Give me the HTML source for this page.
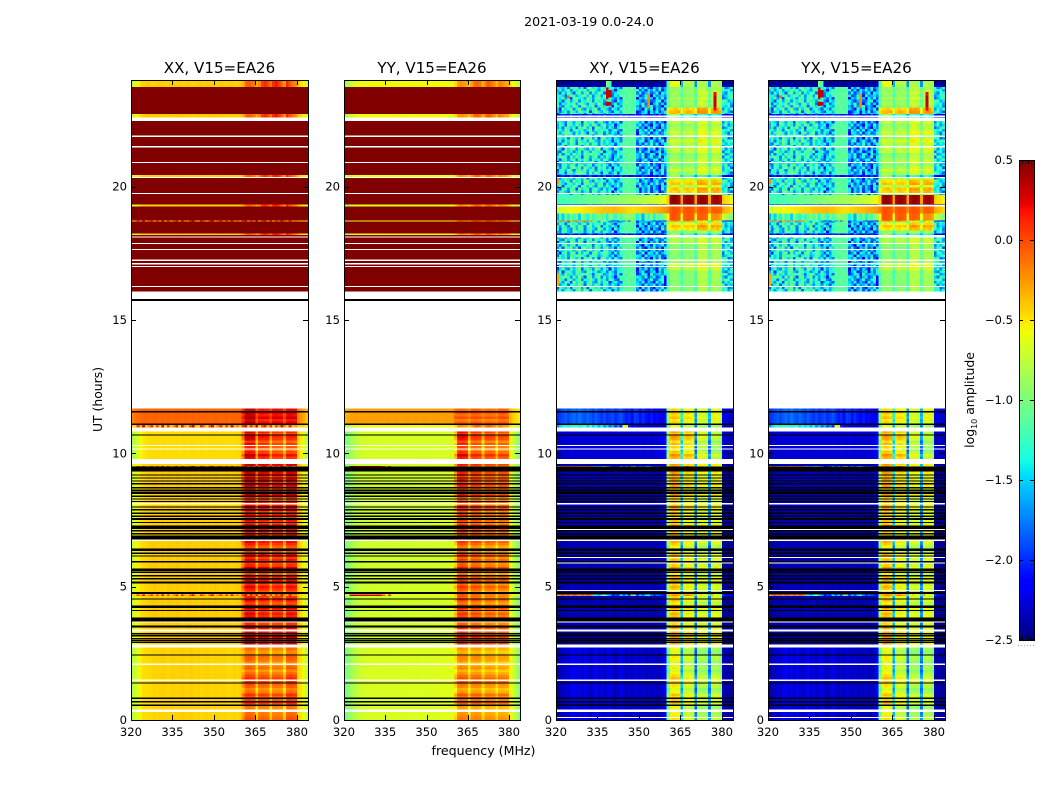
<!DOCTYPE html>
<html>
<head>
<meta charset="utf-8">
<title>2021-03-19 0.0-24.0</title>
<style>
html,body{margin:0;padding:0;background:#fff;width:1050px;height:800px;overflow:hidden}
svg{display:block}
text{font-family:"DejaVu Sans","Liberation Sans",sans-serif;fill:#000}
</style>
</head>
<body>
<svg id="fig" xmlns="http://www.w3.org/2000/svg" width="1050" height="800" viewBox="0 0 1050 800">
<text x="589" y="26" font-size="12.6" text-anchor="middle">2021-03-19 0.0-24.0</text>
<text x="483.5" y="755" font-size="12.6" text-anchor="middle">frequency (MHz)</text>
<text x="0" y="0" font-size="12.4" text-anchor="middle" transform="translate(102,399.5) rotate(-90)">UT (hours)</text>
<text x="0" y="0" font-size="12.4" text-anchor="middle" transform="translate(974,400) rotate(-90)">log<tspan font-size="8" dy="3">10</tspan><tspan dy="-3"> amplitude</tspan></text>
<g id="panels"></g>
<g id="cbar"></g>
</svg>
<script>
// ---------- axis data ----------
const panelNames = ["XX", "YY", "XY", "YX"];
const panelSuffix = ", V15=EA26";
const freqTicks = [320, 335, 350, 365, 380];
const hourTicks = [0, 5, 10, 15, 20];
const colorTicks = [0.5, 0.0, -0.5, -1.0, -1.5, -2.0, -2.5];

// ---------- XX spectra (log10 amplitude for 64 1-MHz channels) ----------
const xxLow = [-.8,-.72,-.62,-.54,-.48,-.47,-.46,-.45,-.44,-.45,-.44,-.43,-.44,-.45,-.43,-.43,-.44,-.43,-.42,-.43,-.44,-.42,-.43,-.44,-.43,-.45,-.44,-.43,-.44,-.45,-.43,-.44,-.45,-.44,-.45,-.46,-.45,-.44,-.45,-.43,-.32,-.11,-.09,-.11,-.14,-.47,-.17,-.15,-.17,-.18,-.46,-.2,-.18,-.19,-.21,-.47,-.11,-.09,-.11,-.13,-.46,-.5,-.6,-.74];
const xxMain = [-.74,-.64,-.55,-.49,-.46,-.44,-.43,-.42,-.41,-.42,-.43,-.42,-.44,-.41,-.42,-.43,-.41,-.42,-.44,-.43,-.41,-.42,-.43,-.42,-.44,-.42,-.41,-.43,-.42,-.43,-.41,-.42,-.44,-.43,-.42,-.43,-.44,-.43,-.42,-.41,-.26,.02,.05,.04,.02,-.4,-.05,-.03,-.05,-.06,-.38,-.08,-.06,-.05,-.08,-.4,-.02,0,-.02,-.04,-.4,-.46,-.56,-.7];
const xxMid = [-.85,-.75,-.65,-.57,-.52,-.49,-.48,-.47,-.46,-.47,-.48,-.46,-.47,-.48,-.46,-.47,-.46,-.48,-.47,-.46,-.48,-.47,-.46,-.47,-.48,-.47,-.46,-.48,-.47,-.46,-.47,-.48,-.47,-.46,-.48,-.47,-.48,-.47,-.46,-.44,-.32,.12,.14,.12,.1,-.44,-.02,0,-.02,-.03,-.4,-.1,-.08,-.1,-.11,-.42,-.05,-.04,-.06,-.08,-.44,-.52,-.64,-.8];
const xxBlock = [-.18,-.14,-.11,-.1,-.09,-.08,-.09,-.1,-.08,-.09,-.1,-.08,-.09,-.08,-.1,-.09,-.08,-.09,-.1,-.08,-.09,-.1,-.08,-.09,-.08,-.1,-.09,-.08,-.1,-.09,-.08,-.09,-.1,-.09,-.08,-.1,-.09,-.08,-.09,-.08,-.02,.2,.22,.2,.18,-.12,.05,.07,.05,.04,-.1,.08,.1,.08,.07,-.12,.1,.12,.1,.08,-.18,-.24,-.3,-.4];
const xxLine = [-.45,-.42,.05,-.38,.2,-.42,-.2,.1,-.45,.02,-.38,.25,-.42,.05,-.45,-.2,.15,-.42,.2,-.3,-.42,.02,.3,-.38,-.42,.1,-.2,-.45,.02,.2,-.42,-.2,.1,-.42,.02,-.38,.2,-.38,-.2,-.42,.05,.2,-.38,.1,-.3,.25,-.42,.02,.15,-.38,.1,-.42,.02,-.3,.2,-.2,-.42,.1,-.38,-.3,-.42,-.45,-.45,-.5];
const xxYellow = [-.75,-.65,-.55,-.48,-.44,-.43,-.42,-.44,-.43,-.42,-.43,-.42,-.44,-.43,-.42,-.44,-.43,-.42,-.43,-.44,-.42,-.43,-.44,-.43,-.42,-.43,-.44,-.42,-.43,-.42,-.44,-.43,-.42,-.43,-.44,-.43,-.42,-.43,-.44,-.42,-.36,-.12,-.05,-.1,-.15,-.3,-.2,.05,.1,.02,-.15,.1,.18,.05,-.1,-.25,.12,-.05,-.15,-.2,-.4,-.48,-.55,-.72];

// ---------- YY spectra ----------
const yyLow = [-1.02,-.96,-.88,-.82,-.76,-.72,-.7,-.69,-.68,-.67,-.68,-.67,-.66,-.67,-.66,-.67,-.66,-.65,-.66,-.67,-.65,-.66,-.65,-.66,-.64,-.65,-.66,-.65,-.64,-.65,-.66,-.64,-.65,-.64,-.65,-.64,-.63,-.64,-.63,-.62,-.52,-.25,-.22,-.24,-.26,-.52,-.28,-.27,-.26,-.28,-.5,-.32,-.3,-.32,-.33,-.5,-.33,-.32,-.34,-.36,-.55,-.68,-.8,-.96];
const yyMain = [-1.0,-.95,-.88,-.82,-.77,-.74,-.72,-.71,-.7,-.71,-.7,-.69,-.71,-.7,-.69,-.7,-.71,-.69,-.7,-.69,-.7,-.71,-.69,-.7,-.68,-.7,-.69,-.7,-.68,-.69,-.7,-.69,-.68,-.7,-.69,-.68,-.69,-.68,-.67,-.66,-.55,-.16,-.12,-.14,-.18,-.5,-.22,-.2,-.22,-.24,-.5,-.28,-.26,-.28,-.3,-.5,-.3,-.28,-.3,-.34,-.58,-.72,-.85,-.98];
const yyMid = [-1.0,-.95,-.88,-.82,-.76,-.72,-.7,-.69,-.68,-.69,-.68,-.67,-.69,-.68,-.67,-.68,-.69,-.67,-.68,-.67,-.68,-.69,-.67,-.68,-.67,-.68,-.69,-.67,-.68,-.67,-.69,-.68,-.67,-.68,-.69,-.67,-.68,-.67,-.66,-.64,-.52,.03,.06,.04,.01,-.48,-.12,-.1,-.12,-.13,-.46,-.15,-.14,-.15,-.17,-.48,-.18,-.17,-.18,-.2,-.55,-.7,-.82,-.96];
const yyBlock = [-.34,-.31,-.29,-.28,-.27,-.28,-.27,-.28,-.27,-.28,-.27,-.26,-.28,-.27,-.28,-.27,-.26,-.28,-.27,-.26,-.28,-.27,-.26,-.27,-.28,-.26,-.27,-.28,-.27,-.26,-.27,-.28,-.27,-.26,-.27,-.28,-.27,-.26,-.27,-.26,-.24,-.22,-.2,-.22,-.24,-.32,-.2,-.18,-.2,-.22,-.3,-.24,-.22,-.24,-.25,-.3,-.2,-.18,-.2,-.24,-.36,-.42,-.46,-.52];
const yyLine = [-.62,-.6,.28,.32,.3,.25,.3,.32,.28,.3,.26,.32,.3,.2,-.1,-.55,.1,-.6,-.62,-.6,-.62,-.6,-.58,-.6,-.62,-.6,-.58,-.6,-.62,-.6,-.58,-.6,-.62,-.6,-.58,-.6,-.58,-.6,-.58,-.56,-.45,-.05,.02,-.02,-.08,-.45,-.1,-.12,-.1,-.12,-.45,-.15,-.2,-.15,-.18,-.45,-.2,-.22,-.18,-.25,-.48,-.55,-.62,-.7];
const yyYellow = [-.85,-.8,-.72,-.66,-.62,-.6,-.58,-.6,-.58,-.57,-.58,-.6,-.58,-.57,-.58,-.6,-.58,-.57,-.58,-.6,-.57,-.58,-.6,-.58,-.57,-.58,-.6,-.57,-.58,-.57,-.6,-.58,-.57,-.58,-.6,-.58,-.57,-.58,-.6,-.57,-.48,-.28,-.22,-.26,-.3,-.42,-.25,-.1,-.08,-.15,-.32,-.15,-.05,-.12,-.2,-.36,-.18,-.22,-.28,-.32,-.5,-.58,-.66,-.8];

// ---------- XY spectra ----------
const xyLow = [-2.4,-2.36,-2.32,-2.28,-2.3,-2.24,-2.18,-2.28,-2.22,-2.32,-2.2,-2.26,-2.33,-2.28,-2.18,-2.3,-2.24,-2.32,-2.26,-2.2,-2.3,-2.35,-2.28,-2.22,-2.3,-2.36,-2.28,-2.33,-2.25,-2.3,-2.34,-2.28,-2.36,-2.3,-2.33,-2.28,-2.36,-2.33,-2.28,-2.15,-1.1,-.62,-.55,-.58,-.6,-1.6,-.78,-.72,-.75,-.8,-1.8,-.9,-.85,-.88,-.92,-1.75,-.85,-.82,-.85,-.95,-2.35,-2.38,-2.42,-2.42];
const xyMain = [-2.45,-2.42,-2.4,-2.4,-2.38,-2.36,-2.35,-2.38,-2.36,-2.4,-2.35,-2.38,-2.4,-2.36,-2.35,-2.38,-2.36,-2.4,-2.38,-2.35,-2.38,-2.4,-2.36,-2.38,-2.35,-2.4,-2.38,-2.36,-2.4,-2.38,-2.35,-2.38,-2.4,-2.36,-2.38,-2.4,-2.38,-2.36,-2.35,-2.25,-1.05,-.58,-.52,-.55,-.6,-1.7,-.76,-.72,-.74,-.78,-1.9,-.85,-.82,-.85,-.88,-1.85,-.82,-.78,-.82,-.9,-2.42,-2.44,-2.45,-2.45];
const xyMid = [-2.35,-2.32,-2.3,-2.28,-2.3,-2.26,-2.28,-2.3,-2.26,-2.28,-2.3,-2.26,-2.28,-2.3,-2.26,-2.28,-2.3,-2.26,-2.28,-2.3,-2.26,-2.28,-2.3,-2.26,-2.28,-2.3,-2.26,-2.28,-2.3,-2.26,-2.28,-2.3,-2.26,-2.28,-2.3,-2.26,-2.28,-2.25,-2.2,-2.1,-1.0,-.48,-.42,-.45,-.5,-1.5,-.62,-.55,-.58,-.65,-1.85,-.82,-.78,-.8,-.85,-1.8,-.92,-.88,-.9,-1.0,-2.3,-2.32,-2.35,-2.35];
const xyBlock = [-2.0,-1.95,-1.9,-1.85,-1.92,-1.85,-1.8,-1.88,-1.78,-1.85,-1.9,-1.82,-1.88,-1.95,-1.85,-1.92,-1.98,-1.9,-2.0,-1.95,-1.9,-2.0,-1.95,-1.88,-1.98,-2.05,-2.0,-2.1,-1.95,-1.98,-2.1,-2.0,-2.08,-2.12,-2.05,-2.15,-2.1,-2.18,-2.2,-2.1,-1.1,-.6,-.55,-.58,-.62,-1.5,-.7,-.65,-.68,-.75,-1.8,-.85,-.8,-.82,-.88,-1.7,-.75,-.7,-.75,-.85,-2.2,-2.25,-2.3,-2.3];
const xyLine = [-.3,-.2,-.1,-.25,-.15,-.3,-.1,-.2,-.3,-.15,-.25,-.1,-.2,-.35,-1.3,-1.5,-1.1,-.6,-1.4,-1.6,-2.1,-1.9,-2.0,-1.4,-1.8,-1.5,-1.9,-.4,-1.2,-1.9,-1.5,-1.8,-1.4,-1.2,-1.7,-2.0,-1.8,-1.9,-2.0,-2.1,-.4,-.3,-.2,-.15,-.3,-.9,-.2,-.1,-.25,-.3,-1.2,-.6,-.4,-.6,-.7,-1.2,-.25,-.6,-.7,-.8,-1.9,-2.1,-2.1,-2.2];
const xyStreak = [-1.7,-1.5,-1.4,-1.3,-1.4,-1.2,-1.3,-1.2,-1.4,-1.3,-1.2,-1.5,-1.3,-1.5,-1.4,-1.6,-1.4,-1.7,-1.5,-1.8,-1.6,-1.9,-1.7,-2.0,-.7,-.5,-2.0,-2.2,-2.1,-2.2,-2.2,-2.3,-2.2,-2.3,-2.25,-2.3,-2.3,-2.25,-2.3,-2.2,-1.2,-.7,-.6,-.65,-.7,-1.6,-.85,-.75,-.8,-.85,-1.8,-.9,-.85,-.9,-.95,-1.75,-.85,-.85,-.9,-1.0,-2.3,-2.35,-2.4,-2.4];
const xyBlue = [-2.2,-2.1,-2.0,-2.2,-2.1,-1.9,-2.1,-2.2,-2.0,-2.1,-2.2,-2.0,-1.9,-2.1,-2.2,-2.0,-2.1,-1.9,-2.2,-2.1,-2.0,-2.1,-2.2,-1.9,-2.1,-2.0,-2.2,-2.1,-2.0,-2.2,-2.1,-1.9,-2.0,-2.2,-2.1,-2.0,-2.2,-1.9,-2.1,-2.0,-1.2,-.9,-.8,-.9,-1.0,-1.5,-1.2,-1.1,-1.2,-1.3,-1.7,-1.3,-1.2,-1.3,-1.4,-1.6,-1.3,-1.2,-1.4,-1.5,-2.1,-2.2,-2.2,-2.3];
const xyTop = [-2.45,-2.45,-2.42,-2.4,-2.42,-2.45,-2.4,-2.42,-2.38,-2.42,-2.45,-2.4,-2.42,-2.38,-2.4,-2.45,-2.42,-2.4,-1.0,-1.2,-2.4,-2.42,-2.45,-2.4,-2.42,-2.38,-2.4,-2.45,-2.42,-2.4,-2.38,-2.42,-2.4,-2.4,-2.45,-2.42,-2.4,-2.38,-2.42,-2.3,-1.2,-.62,-.58,-.6,-.62,-1.6,-.8,-.78,-.8,-.82,-1.7,-.85,-.82,-.85,-.88,-1.7,-.82,-.8,-.85,-.9,-2.3,-2.4,-2.42,-2.45];
const xyFlare = [-1.25,-1.22,-1.2,-1.22,-1.18,-1.2,-1.16,-1.15,-1.12,-1.14,-1.1,-1.08,-1.06,-1.08,-1.05,-1.04,-1.02,-1.0,-.98,-.98,-.96,-.95,-.92,-.92,-.9,-.9,-.88,-.86,-.85,-.84,-.82,-.8,-.78,-.78,-.75,-.72,-.7,-.66,-.62,-.56,-.42,.42,.46,.45,.36,-.28,.38,.44,.44,.36,-.3,.38,.45,.45,.36,-.3,.36,.42,.42,.3,-.42,-.48,-.5,-.55];
const xyBar = [-.72,-.68,-.65,-.62,-.6,-.58,-.56,-.55,-.54,-.52,-.5,-.48,-.46,-.45,-.44,-.42,-.4,-.38,-.38,-.37,-.36,-.36,-.38,-.4,-.42,-.44,-.46,-.48,-.48,-.46,-.44,-.42,-.4,-.38,-.36,-.34,-.32,-.3,-.28,-.25,-.18,-.05,-.02,-.03,-.05,-.22,-.05,-.03,-.02,-.05,-.22,-.05,-.02,-.03,-.06,-.22,-.08,-.05,-.06,-.1,-.3,-.36,-.4,-.45];
const xyFlareLow = [-1.6,-1.2,-1.5,-1.1,-1.4,-1.0,-1.3,-1.1,-1.5,-.9,-1.2,-1.4,-1.0,-1.3,-1.1,-.95,-1.2,-1.0,-1.4,-.95,-1.1,-1.3,-1.0,-1.2,-1.0,-.95,-.95,-.98,-1.0,-1.4,-1.2,-1.6,-1.1,-1.3,-1.0,-1.4,-1.1,-1.2,-1.0,-.9,-.55,-.04,-.02,-.04,-.06,-.55,-.06,-.04,-.05,-.08,-.55,-.06,-.05,-.08,-.1,-.6,-.22,-.2,-.22,-.3,-.7,-.8,-.9,-1.0];
const xyNoise1 = [-1.5,-1.3,-1.8,-1.4,-1.2,-1.6,-1.9,-1.4,-1.3,-1.7,-1.2,-1.5,-2.0,-1.4,-1.3,-1.6,-1.2,-1.8,-1.5,-1.3,-1.9,-1.4,-1.6,-1.3,-1.15,-1.1,-1.2,-1.15,-1.2,-1.9,-1.5,-2.2,-1.7,-1.4,-2.0,-1.6,-2.1,-1.5,-1.8,-1.4,-1.3,-1.0,-.95,-1.05,-1.0,-1.3,-1.1,-1.05,-1.0,-1.1,-1.4,-.95,-.9,-.95,-1.0,-1.3,-1.0,-.95,-.95,-1.0,-1.5,-1.3,-1.7,-1.4];
const xyNoise2 = [-1.3,-1.7,-1.4,-1.2,-2.0,-1.5,-1.3,-1.6,-1.9,-1.2,-1.4,-1.8,-1.3,-1.5,-2.1,-1.2,-1.6,-1.4,-1.3,-1.9,-1.5,-1.2,-1.7,-1.9,-1.2,-1.15,-1.1,-1.2,-1.15,-1.5,-2.1,-1.6,-1.9,-2.2,-1.4,-1.8,-1.5,-2.3,-1.6,-1.9,-1.25,-1.05,-1.0,-.95,-1.05,-1.4,-1.05,-1.0,-1.1,-1.05,-1.35,-.9,-.95,-.9,-.95,-1.35,-.95,-1.0,-.9,-1.05,-1.3,-1.8,-1.4,-1.6];
const xyNoise3 = [-1.8,-1.4,-1.2,-1.6,-1.4,-1.9,-1.2,-1.5,-1.7,-1.4,-2.0,-1.3,-1.5,-1.2,-1.8,-1.4,-2.1,-1.3,-1.2,-1.6,-1.4,-1.8,-1.3,-1.5,-1.1,-1.2,-1.15,-1.1,-1.2,-2.2,-1.6,-1.8,-1.4,-2.0,-1.7,-2.3,-1.5,-1.9,-1.4,-2.0,-1.35,-.95,-1.05,-1.0,-.95,-1.3,-1.1,-1.0,-1.05,-1.0,-1.45,-.95,-.9,-.85,-.95,-1.25,-1.0,-.9,-1.0,-.95,-1.7,-1.4,-1.3,-1.9];
const xyNoise4 = [-1.2,-1.5,-1.9,-1.3,-1.7,-1.2,-1.6,-2.1,-1.4,-1.3,-1.8,-1.5,-1.2,-1.9,-1.4,-1.7,-1.3,-1.5,-2.0,-1.4,-1.2,-1.7,-1.4,-1.2,-1.2,-1.15,-1.1,-1.15,-1.1,-1.6,-1.9,-1.4,-2.1,-1.7,-1.5,-2.0,-1.8,-1.4,-2.2,-1.5,-1.3,-1.0,-1.0,-.95,-1.05,-1.35,-1.0,-1.1,-1.0,-1.05,-1.4,-.9,-.95,-.9,-.9,-1.3,-.95,-.95,-1.0,-.95,-1.4,-1.6,-1.9,-1.3];
const xyNoise5 = [-1.6,-1.2,-1.5,-2.0,-1.3,-1.4,-1.7,-1.2,-1.6,-1.9,-1.3,-1.4,-1.7,-1.2,-1.5,-1.9,-1.4,-1.2,-1.7,-1.5,-1.3,-2.0,-1.5,-1.4,-1.15,-1.2,-1.1,-1.2,-1.15,-1.7,-1.4,-2.0,-1.6,-1.9,-2.3,-1.5,-1.7,-2.1,-1.4,-1.8,-1.3,-1.05,-.95,-1.0,-1.0,-1.3,-1.05,-1.05,-1.1,-1.0,-1.35,-.95,-.85,-.9,-1.0,-1.3,-.9,-1.0,-.95,-1.0,-1.6,-1.2,-1.8,-1.5];
const xyNoise6 = [-1.4,-1.9,-1.3,-1.5,-1.8,-1.3,-1.4,-1.6,-1.2,-2.1,-1.5,-1.2,-1.6,-1.8,-1.3,-1.4,-1.7,-1.9,-1.3,-1.2,-1.6,-1.5,-1.9,-1.6,-1.1,-1.15,-1.2,-1.1,-1.2,-2.0,-1.7,-1.5,-2.2,-1.6,-1.9,-1.4,-2.1,-1.7,-1.5,-2.2,-1.2,-1.0,-1.05,-1.0,-.95,-1.4,-1.1,-1.0,-1.0,-1.1,-1.3,-.9,-.95,-.95,-.95,-1.4,-1.0,-.9,-.95,-1.05,-1.9,-1.5,-1.3,-1.7];
const xyNoise7 = [-1.9,-1.3,-1.6,-1.3,-1.5,-2.0,-1.4,-1.3,-1.8,-1.5,-1.3,-1.9,-1.4,-1.6,-1.2,-1.5,-1.9,-1.3,-1.6,-1.4,-1.8,-1.2,-1.3,-1.7,-1.2,-1.1,-1.15,-1.2,-1.1,-1.4,-2.2,-1.7,-1.5,-1.8,-2.1,-1.7,-1.4,-2.0,-1.9,-1.5,-1.3,-.95,-1.0,-1.05,-1.0,-1.3,-1.0,-1.05,-1.0,-1.05,-1.4,-.9,-.9,-.95,-1.0,-1.35,-.95,-.9,-1.0,-1.0,-1.3,-1.7,-1.5,-1.2];
const xyNoise8 = [-1.3,-1.6,-2.0,-1.5,-1.3,-1.4,-1.8,-1.6,-1.2,-1.4,-1.7,-1.3,-1.9,-1.5,-1.4,-1.8,-1.2,-1.6,-1.4,-1.8,-1.3,-1.5,-1.2,-1.4,-1.15,-1.2,-1.15,-1.1,-1.15,-1.8,-1.5,-2.1,-1.9,-1.5,-1.6,-2.2,-1.4,-1.8,-1.7,-1.6,-1.35,-1.0,-.95,-1.0,-1.05,-1.35,-1.05,-1.0,-1.05,-1.0,-1.4,-.95,-.9,-.9,-.95,-1.3,-.95,-.95,-.9,-1.0,-1.6,-1.4,-1.2,-1.8];

// Typical per-channel level correction for the noisy cross-hand rows
const noiseTilt = [0,.05,.12,.14,.16,.18,.2,.18,.2,.16,.18,.2,.2,.16,.18,.2,.16,.12,.08,.02,-.02,-.04,-.02,.04,.02,.02,.02,.02,.02,.1,.12,.14,.12,.1,.14,.12,.1,.12,.12,.1,.12,.05,.05,.05,.05,.15,.08,.08,.08,.08,.2,.12,.12,.12,.12,.2,.1,.1,.1,.1,.1,.1,.08,.05];
const noiseShift = [0,5,17,9,2,21,13,7,19,3,11,23,1,15,6,20,8,14,4,22,10,16,12,18,5,9,1,13,20,7,3];

// Saturated level shown by XX / YY during most of the second observing block
const saturatedLevel = 0.9;

const spectraXX = {low:xxLow, main:xxMain, mid:xxMid, block:xxBlock, line:xxLine, speck:xxLine, streak:xxLine, yellow:xxYellow, blue:xxYellow, top:xxYellow, n1:saturatedLevel, n2:saturatedLevel, n3:saturatedLevel, n4:saturatedLevel, n5:saturatedLevel, n6:saturatedLevel, n7:saturatedLevel, n8:saturatedLevel, flare:saturatedLevel, bar:saturatedLevel, flareLow:saturatedLevel};
const spectraYY = {low:yyLow, main:yyMain, mid:yyMid, block:yyBlock, line:yyLine, speck:yyYellow, streak:yyYellow, yellow:yyYellow, blue:yyYellow, top:yyYellow, n1:saturatedLevel, n2:saturatedLevel, n3:saturatedLevel, n4:saturatedLevel, n5:saturatedLevel, n6:saturatedLevel, n7:saturatedLevel, n8:saturatedLevel, flare:saturatedLevel, bar:saturatedLevel, flareLow:saturatedLevel};
const spectraXY = {low:xyLow, main:xyMain, mid:xyMid, block:xyBlock, line:xyLine, speck:xyLine, streak:xyStreak, yellow:xyBlue, blue:xyBlue, top:xyTop, n1:xyNoise1, n2:xyNoise2, n3:xyNoise3, n4:xyNoise4, n5:xyNoise5, n6:xyNoise6, n7:xyNoise7, n8:xyNoise8, flare:xyFlare, bar:xyBar, flareLow:xyFlareLow};
const spectraYX = spectraXY;
const spectraByPol = [spectraXX, spectraYY, spectraXY, spectraYX];

// ---------- per-row RFI band offsets (log10 units, rows of 0.1 h) ----------
const lowBoost = [.09,.04,-.01,-.1,-.05,.06,.2,.15,.1,.2,0,-.08,.05,.1,.17,.22,.12,0,-.1,.05,-.05,-.1,.03,.06,-.04,-.1,0,.06,.14];
const mainBoost = [.3,.2,.32,.1,.25,.12,.3,.08,.2,.05,.15,.22,.06,.28,.12,.02,.2,.08,.15,-.02,.1,.22,.05,.18,.28,.1,.02,.2,.3,.12,.05,.2,.08,.25,.02,.15,-.03,.12,.22,.05,.16,.08,.28,.12,.32,.1,.2,.05,.18,.08,.25,.3,.12,.2,.05,.25,.32,.15,.08,.28,.2,.35,.1,.25,.3,.15,.22,.3];
const midBoost = [.1,.25,.05,-.1,0,.1,-.05,.15,.2,.05,.25,.1];
const blockBoost = [.15,.05,.2,.1,.25,.12,.2];
const flatBoost = [0];
const upperBoost = [0,0,0,0,0,0,0,0,.2,.25,.15,.1,0,0,0,.05,0,0,.15,.15,.1,0,0,.45,.55,.4,0,0,0,0,0,0,0,0,0,0,0,.5,.55,.2,.55,.45,.15,.1,.1,.25,.1,0,.2,.1,.05,0,.2,.2,.1,.15,.3,.1,.1,.25,.15,.1,.05,.2,0,.1,.55,.6,.5,0,.1,.05,.1,0,.1,.05,0,.1,.1,0];
const noiseOrder = ["n1","n3","n5","n2","n7","n4","n8","n6","n2","n5","n1","n7","n3","n8","n4"];

// ---------- UT sections, painted in order ----------
const sections = [
  {from:0,     to:2.84,  keys:["low"],   boost:lowBoost},
  {from:2.84,  to:9.6,   keys:["main"],  boost:mainBoost},
  {from:9.47,  to:9.52,  keys:["line"],  boost:flatBoost},
  {from:4.65,  to:4.7,   keys:["line"],  boost:flatBoost},
  {from:9.78,  to:10.81, keys:["mid"],   boost:midBoost},
  {from:10.96, to:11.09, keys:["streak"],  boost:flatBoost},
  {from:11.09, to:11.69, keys:["block"], boost:blockBoost},
  {from:16.06, to:24,    keys:noiseOrder, boost:upperBoost, noisy:true},
  {from:18.18, to:18.25, keys:["yellow"], boost:flatBoost},
  {from:18.69, to:18.74, keys:["speck"],  boost:flatBoost},
  {from:18.74, to:19.0,  keys:["flareLow"], boost:flatBoost},
  {from:19.0,  to:19.25, keys:["bar"],   boost:flatBoost},
  {from:19.25, to:19.34, keys:["yellow"], boost:flatBoost},
  {from:19.34, to:19.68, keys:["flare"], boost:flatBoost},
  {from:20.37, to:20.43, keys:["yellow"], boost:flatBoost},
  {from:22.6,  to:22.73, keys:["yellow"], boost:flatBoost},
  {from:23.73, to:23.85, keys:["top"],   boost:flatBoost},
  {from:23.85, to:24,    keys:["top"],   boost:flatBoost}
];

// Narrow-band cross-hand interference: channel, hour range, log10 amplitude
const spikeChannels = [18, 19, 18, 19, 33, 57, 57, 4, 0, 0];
const spikeFrom = [23.3, 23.35, 23.03, 23.05, 22.95, 22.85, 23.0, 23.3, 16.25, 20.1];
const spikeTo = [23.7, 23.62, 23.2, 23.18, 23.5, 23.55, 23.4, 23.42, 16.75, 20.28];
const spikeLevels = [.3, .35, .3, .35, -.2, .2, .35, -.1, -.3, -.2];

// Flagged rows: start hour and duration
const blackStart = [15.74,11.54,11.07,10.66,9.42,9.32,9.16,9.06,8.94,8.83,8.69,8.57,8.47,8.36,8.26,8.17,7.96,7.86,7.73,7.61,7.5,7.38,7.16,7.07,6.96,6.82,6.77,6.33,6.23,6.13,5.91,5.58,5.51,5.38,5.27,5.11,4.72,4.51,4.2,4.08,3.7,3.46,3.21,3.13,3.03,2.96,2.89,2.41,1.36,.79,.66,.53];
const blackHours = [.08,.04,.04,.04,.09,.09,.05,.04,.05,.05,.04,.08,.08,.05,.04,.05,.05,.05,.05,.05,.08,.05,.13,.05,.05,.09,.05,.1,.05,.04,.05,.1,.05,.05,.05,.09,.08,.05,.1,.05,.14,.09,.05,.05,.05,.05,.05,.05,.05,.05,.05,.05];
const whiteStart = [16.06,11.69,10.81,10.28,10.14,9.6,8.09,6.72,3.65,3.32,2.72,2.07,1.46,.3,22.47,21.87,21.46,20.89,20.33,19.73,18.1,17.85,17.63,17.22,17.08,16.99,16.23];
const whiteHours = [-.32,4.01,.15,.04,.04,.18,.04,.05,.04,.07,.12,.04,.06,.1,.13,.04,.06,.04,.04,.04,.04,.04,.04,.04,.06,.04,.04];
const crossWhiteStart = [7.13,6.08,5.86,4.83,.08,22.62,19.26,18.14];
const crossWhiteHours = [.04,.04,.04,.04,.04,.04,.05,.05];

// ---------- geometry & scales ----------
const panelLeft = [131, 344, 556, 768];
const panelWidth = [177, 176, 177, 177];
const plotTop = 80, plotBottom = 720;
const freqMin = 320, freqMax = 384, hourMin = 0, hourMax = 24;
const vmin = -2.5, vmax = 0.5;
const cbarLeft = 1019, cbarRight = 1034, cbarTop = 160, cbarBottom = 640;
const NS = "http://www.w3.org/2000/svg";

function xScale(p, mhz) { return panelLeft[p] + (mhz - freqMin) / (freqMax - freqMin) * panelWidth[p]; }
function yScale(h) { return plotBottom - (h - hourMin) / (hourMax - hourMin) * (plotBottom - plotTop); }
function cScale(v) { return cbarBottom - (v - vmin) / (vmax - vmin) * (cbarBottom - cbarTop); }

function interp(t, pts) {
  for (let i = 1; i < pts.length; i++) {
    if (t <= pts[i][0]) {
      const a = pts[i - 1], b = pts[i];
      return a[1] + (t - a[0]) / (b[0] - a[0]) * (b[1] - a[1]);
    }
  }
  return pts[pts.length - 1][1];
}
const jetR = [[0,0],[.35,0],[.66,1],[.89,1],[1,.5]];
const jetG = [[0,0],[.125,0],[.375,1],[.64,1],[.91,0],[1,0]];
const jetB = [[0,.5],[.11,1],[.34,1],[.65,0],[1,0]];
function jet(v) {
  let t = (v - vmin) / (vmax - vmin);
  t = Math.max(0, Math.min(1, t));
  t = Math.round(t * 255) / 255;
  const c = [jetR, jetG, jetB].map(function (k) { return Math.round(interp(t, k) * 255); });
  return "rgb(" + c[0] + "," + c[1] + "," + c[2] + ")";
}

function mk(tag, parent, attrs) {
  const el = document.createElementNS(NS, tag);
  for (const k in attrs) el.setAttribute(k, attrs[k]);
  parent.appendChild(el);
  return el;
}

function noiseChannel(c, shift) {
  if (c < 24) return (c + shift) % 24;
  if (c >= 29 && c < 40) return 29 + (c - 29 + shift) % 11;
  if (c >= 60) return 60 + (c - 60 + shift) % 4;
  return c;
}
function levelAt(spec, boost, c, noisy, shift) {
  if (typeof spec === "number") return spec;
  const base = noisy ? spec[noiseChannel(c, shift)] + noiseTilt[c] : spec[c];
  return base + (c >= 40 && c < 60 ? boost : 0);
}
function drawRow(group, p, spec, boost, h0, h1, noisy, shift) {
  const y = yScale(h1), hgt = yScale(h0) - yScale(h1);
  let c = 0;
  while (c < 64) {
    const col = jet(levelAt(spec, boost, c, noisy, shift));
    let e = c + 1;
    while (e < 64 && jet(levelAt(spec, boost, e, noisy, shift)) === col) e++;
    const x0 = xScale(p, freqMin + c), x1 = xScale(p, freqMin + e);
    const r = mk("rect", group, {x: x0, y: y, width: x1 - x0, height: hgt, fill: col});
    
    
    c = e;
  }
}

function drawPanel(p) {
  const root = document.getElementById("panels");
  const g = mk("g", root, {"shape-rendering": "crispEdges"});
  
  
  const spectra = spectraByPol[p];
  const cross = p >= 2;

  sections.forEach(function (s) {
    const n = Math.max(1, Math.ceil((s.to - s.from) / 0.1 - 1e-6));
    for (let k = 0; k < n; k++) {
      const h0 = s.from + k * 0.1, h1 = Math.min(s.to, h0 + 0.1);
      drawRow(g, p, spectra[s.keys[k % s.keys.length]], s.boost[k % s.boost.length], h0, h1, !!s.noisy, noiseShift[k % noiseShift.length]);
    }
  });

  if (cross) {
    spikeChannels.forEach(function (ch, i) {
      const x0 = xScale(p, freqMin + ch), x1 = xScale(p, freqMin + ch + 1);
      const r = mk("rect", g, {x: x0, y: yScale(spikeTo[i]), width: x1 - x0, height: yScale(spikeFrom[i]) - yScale(spikeTo[i]), fill: jet(spikeLevels[i])});
      
      
    });
  }

  blackStart.forEach(function (h, i) {
    const r = mk("rect", g, {x: panelLeft[p], y: yScale(h + blackHours[i]), width: panelWidth[p], height: yScale(h) - yScale(h + blackHours[i]), fill: "#000"});
    
    
  });
  whiteStart.forEach(function (h, i) {
    const a = Math.min(h, h + whiteHours[i]), b = Math.max(h, h + whiteHours[i]);
    const r = mk("rect", g, {x: panelLeft[p], y: yScale(b), width: panelWidth[p], height: yScale(a) - yScale(b), fill: "#fff"});
    
    
  });
  if (cross) {
    crossWhiteStart.forEach(function (h, i) {
      const r = mk("rect", g, {x: panelLeft[p], y: yScale(h + crossWhiteHours[i]), width: panelWidth[p], height: yScale(h) - yScale(h + crossWhiteHours[i]), fill: "#fff"});
      
      
    });
  }
  // The gap-edge line runs over everything
  const gapLine = mk("rect", g, {x: panelLeft[p], y: yScale(15.78), width: panelWidth[p], height: 2, fill: "#000"});
  
  

  // ticks
  const L = panelLeft[p], R = panelLeft[p] + panelWidth[p];
  freqTicks.forEach(function (f) {
    const x = Math.round(xScale(p, f)) + 0.5;
    const t1 = mk("line", g, {x1: x, x2: x, y1: plotBottom, y2: plotBottom - 5, stroke: "#000"});
    
    
    const t2 = mk("line", g, {x1: x, x2: x, y1: plotTop, y2: plotTop + 5, stroke: "#000"});
    
    
    const lbl = mk("text", root, {x: xScale(p, f), y: 736, "font-size": 11.6, "text-anchor": "middle"});
    lbl.textContent = String(f);
    
    
  });
  hourTicks.forEach(function (h) {
    const y = Math.round(yScale(h)) + 0.5;
    const t1 = mk("line", g, {x1: L, x2: L + 5, y1: y, y2: y, stroke: "#000"});
    
    
    const t2 = mk("line", g, {x1: R, x2: R - 5, y1: y, y2: y, stroke: "#000"});
    
    
    const lbl = mk("text", root, {x: L - 4, y: yScale(h) + 4, "font-size": 11.6, "text-anchor": "end"});
    lbl.textContent = String(h);
    
    
  });
  const frame = mk("rect", g, {x: L + 0.5, y: plotTop + 0.5, width: panelWidth[p], height: plotBottom - plotTop, fill: "none", stroke: "#000"});
  
  

  const title = mk("text", root, {x: L + panelWidth[p] / 2, y: 73, "font-size": 15.1, "text-anchor": "middle"});
  title.textContent = panelNames[p] + panelSuffix;
  
  
}

function drawColorbar() {
  const g = document.getElementById("cbar");
  const c = mk("g", g, {"shape-rendering": "crispEdges"});
  
  
  for (let py = cbarTop; py < cbarBottom; py++) {
    const v = vmax - (py + 0.5 - cbarTop) / (cbarBottom - cbarTop) * (vmax - vmin);
    const r = mk("rect", c, {x: cbarLeft, y: py, width: cbarRight - cbarLeft, height: 1, fill: jet(v)});
    
    
  }
  colorTicks.forEach(function (v) {
    const y = Math.round(cScale(v)) + (v === vmin ? -0.5 : 0.5);
    const t1 = mk("line", c, {x1: cbarLeft, x2: cbarLeft + 4, y1: y, y2: y, stroke: "#000"});
    
    
    const t2 = mk("line", c, {x1: cbarRight, x2: cbarRight - 4, y1: y, y2: y, stroke: "#000"});
    
    
    const lbl = mk("text", g, {x: 1013, y: cScale(v) + 4, "font-size": 11.6, "text-anchor": "end"});
    lbl.textContent = v.toFixed(1).replace("-", "\u2212");
    
    
  });
  [1022, 1025, 1028, 1031].forEach(function (x) {
    const a = mk("line", c, {x1: x + 0.5, x2: x + 0.5, y1: cbarTop, y2: cbarTop + 4, stroke: "#000"});
    
    
    const b = mk("line", c, {x1: x + 0.5, x2: x + 0.5, y1: cbarBottom, y2: cbarBottom - 4, stroke: "#000"});
    
    
  });
  const frame = mk("rect", c, {x: cbarLeft + 0.5, y: cbarTop + 0.5, width: cbarRight - cbarLeft, height: cbarBottom - cbarTop, fill: "none", stroke: "#000"});
  
  
  const dots = mk("line", g, {x1: 1018, x2: 1035, y1: 645.5, y2: 645.5, stroke: "#aaa", "stroke-dasharray": "1 2"});
  
  
}

panelNames.forEach(function (_, p) { drawPanel(p); });
drawColorbar();
</script>
</body>
</html>
